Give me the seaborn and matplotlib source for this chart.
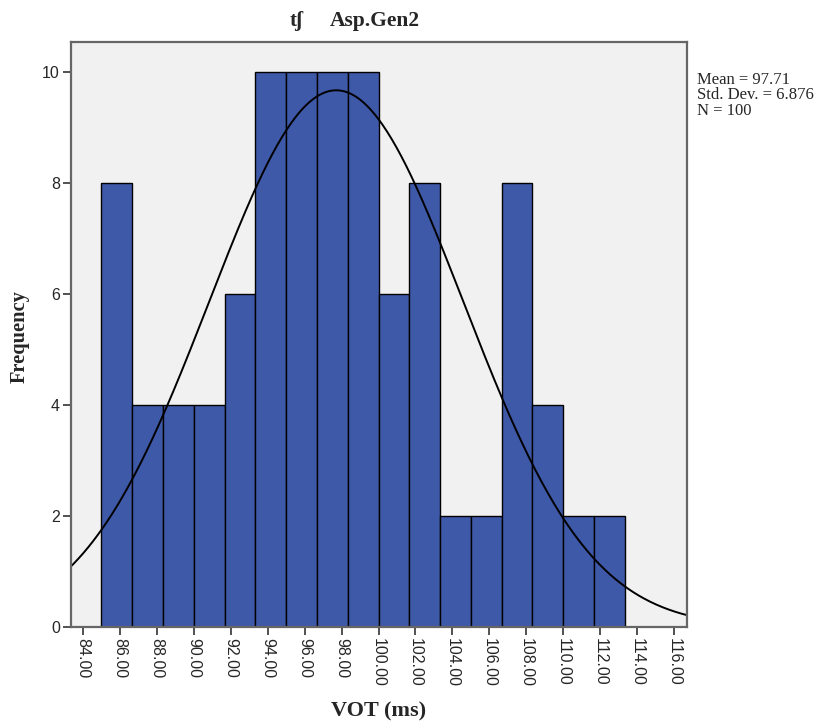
import numpy as np
import pandas as pd
import matplotlib
matplotlib.use("Agg")
import matplotlib.pyplot as plt
import seaborn as sns

# Data
counts = [8, 4, 4, 4, 6, 10, 10, 10, 10, 6, 8, 2, 2, 8, 4, 2, 2]
bin_start = 85.0
bin_width = 1.6667
mean_val = 97.71
sd_val = 6.876
n_val = 100
x_ticks = [84, 86, 88, 90, 92, 94, 96, 98, 100, 102, 104, 106, 108, 110, 112, 114, 116]
y_ticks = [0, 2, 4, 6, 8, 10]

edges = [float(bin_start + bin_width * i) for i in range(len(counts) + 1)]
centers = [(edges[i] + edges[i + 1]) / 2 for i in range(len(counts))]
df = pd.DataFrame({"VOT": centers, "count": counts})

sns.set_style("white")
fig = plt.figure(figsize=(8.22, 7.25), dpi=100)
ax = fig.add_axes([71/822, 1-627/725, (687-71)/822, (627-42)/725])
ax.set_facecolor("#F0F1F0")

sns.histplot(data=df, x="VOT", weights="count", bins=edges, ax=ax,
             color="#3F59A9", alpha=1, edgecolor="black", linewidth=1.0)

xs = np.linspace(83.0, 117.0, 400)
ys = n_val * bin_width * np.exp(-0.5 * ((xs - mean_val) / sd_val) ** 2) / (sd_val * np.sqrt(2 * np.pi))
sns.lineplot(x=xs, y=ys, ax=ax, color="black", linewidth=1.4)

ax.set_xlim(83.35, 116.7)
ax.set_ylim(0, 10.54)
ax.set_xticks(x_ticks)
ax.set_xticklabels([f"{v:.2f}" for v in x_ticks], rotation=270,
                   fontfamily="Liberation Sans", fontsize=11.5)
ax.set_yticks(y_ticks)
ax.set_yticklabels([str(v) for v in y_ticks], fontfamily="Liberation Sans", fontsize=11.5)
ax.tick_params(axis="both", direction="out", length=6, width=1.2, color="#333333", pad=2,
               bottom=True, left=True)
for s in ax.spines.values():
    s.set_color("#666666")
    s.set_linewidth(1.6)

ax.set_xlabel("VOT (ms)", fontfamily="Liberation Serif", fontweight="bold", fontsize=16, va="center")
ax.xaxis.set_label_coords(0.5, (627 - 711) / 585)
ax.set_ylabel("Frequency", fontfamily="Liberation Serif", fontweight="bold", fontsize=14.7, va="center")
ax.yaxis.set_label_coords((20 - 71) / 616, (627 - 337) / 585)

fig.text(290/822, 1-21/725, "tʃ", ha="left", va="center",
         fontfamily=["Liberation Serif", "DejaVu Serif"], fontweight="bold", fontsize=15)
fig.text(330/822, 1-21/725, "Asp.Gen2", ha="left", va="center",
         fontfamily="Liberation Serif", fontweight="bold", fontsize=15.5)

fig.text(697/822, 1-72/725, f"Mean = {mean_val}\nStd. Dev. = {sd_val}\nN = {n_val}",
         ha="left", va="top", fontfamily="Liberation Serif", fontsize=12, linespacing=0.95)

fig.savefig("out.png", dpi=100)
